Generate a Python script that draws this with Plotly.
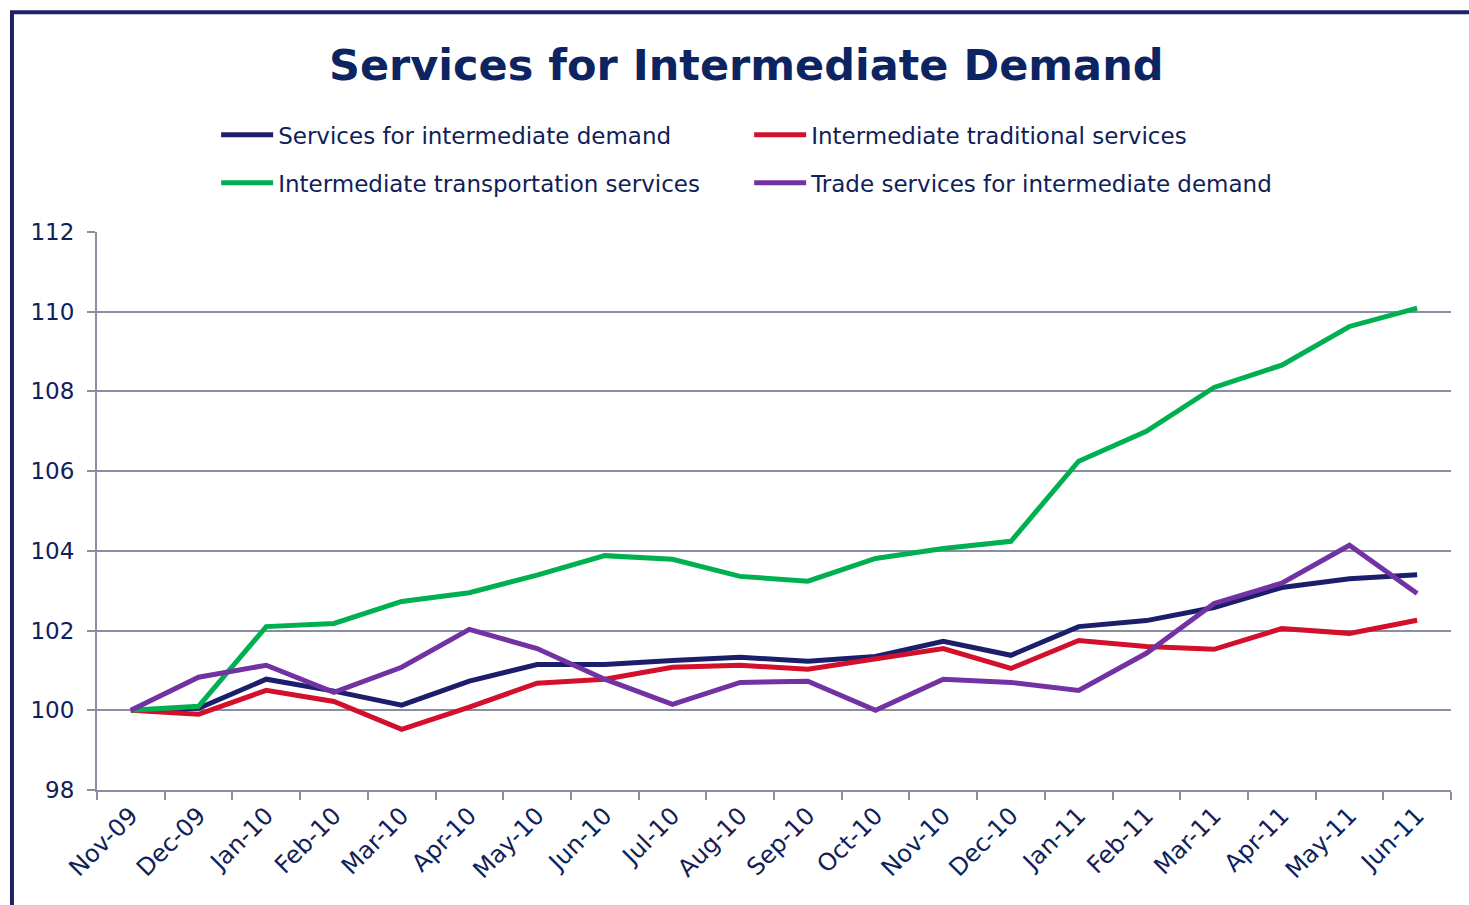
import plotly.graph_objects as go

months = ["Nov-09", "Dec-09", "Jan-10", "Feb-10", "Mar-10", "Apr-10", "May-10", "Jun-10",
          "Jul-10", "Aug-10", "Sep-10", "Oct-10", "Nov-10", "Dec-10", "Jan-11", "Feb-11",
          "Mar-11", "Apr-11", "May-11", "Jun-11"]

services_total = [100, 100.05, 100.78, 100.48, 100.13, 100.73, 101.15, 101.15, 101.25, 101.33,
                  101.23, 101.35, 101.73, 101.38, 102.1, 102.25, 102.58, 103.08, 103.3, 103.4]
traditional = [100, 99.9, 100.5, 100.22, 99.52, 100.08, 100.68, 100.78, 101.08, 101.13,
               101.03, 101.28, 101.55, 101.05, 101.75, 101.6, 101.53, 102.05, 101.93, 102.26]
transportation = [100, 100.1, 102.1, 102.18, 102.73, 102.95, 103.39, 103.88, 103.79, 103.36,
                  103.24, 103.81, 104.06, 104.24, 106.25, 107.0, 108.1, 108.66, 109.63, 110.09]
trade = [100, 100.83, 101.13, 100.45, 101.08, 102.03, 101.55, 100.78, 100.15, 100.7,
         100.73, 100.0, 100.78, 100.7, 100.5, 101.43, 102.68, 103.19, 104.14, 102.93]

navy = "#1b1f6b"
text_col = "#0f2158"
grid_col = "#8b8ea3"
font = "DejaVu Sans"

fig = go.Figure()
# two legend rows, each its own legend so the row spacing matches
series = [
    ("Services for intermediate demand", services_total, navy, "legend"),
    ("Intermediate traditional services", traditional, "#d2102b", "legend"),
    ("Intermediate transportation services", transportation, "#00b050", "legend2"),
    ("Trade services for intermediate demand", trade, "#7232a3", "legend2"),
]
for name, vals, col, leg in series:
    fig.add_trace(go.Scatter(x=months, y=vals, name=name, mode="lines", legend=leg,
                             line=dict(color=col, width=5)))

legend_style = dict(orientation="h", x=0.088, xanchor="left", yanchor="middle",
                    entrywidth=466, entrywidthmode="pixels", itemwidth=52,
                    bgcolor="rgba(0,0,0,0)",
                    font=dict(family=font, size=23, color=text_col))

fig.update_layout(
    width=1469, height=905,
    plot_bgcolor="white", paper_bgcolor="white",
    margin=dict(l=97, r=18, t=232, b=115),
    font=dict(family=font, color=text_col, size=21),
    title=dict(text="<b>Services for Intermediate Demand</b>", x=0.508, xanchor="center",
               y=0.928, yanchor="middle", font=dict(family=font, size=43, color="#0c2461")),
    legend=dict(y=1.174, **legend_style),
    legend2=dict(y=1.088, **legend_style),
    showlegend=True,
)
fig.update_xaxes(type="category", tickangle=-45, tickson="boundaries", ticks="outside",
                 ticklen=8, tickcolor=grid_col, tickwidth=2, showline=True, linecolor=grid_col,
                 linewidth=2, showgrid=False, tickfont=dict(size=24, color=text_col),
                 range=[-0.5, 19.5])
fig.update_yaxes(range=[98, 112], dtick=2, ticks="outside", ticklen=8, tickcolor=grid_col,
                 tickwidth=2, showline=True, linecolor=grid_col, linewidth=2,
                 gridcolor=grid_col, gridwidth=2, zeroline=False,
                 tickfont=dict(size=23, color=text_col), ticklabelstandoff=8)

# outer frame of the chart box
fig.add_shape(type="rect", xref="paper", yref="paper", x0=-0.0628, x1=1.2, y0=-0.4, y1=1.394,
              line=dict(color="#1f2266", width=4), layer="below")

fig.write_html("out.html", config={"displayModeBar": False},
               post_script="document.body.style.margin='0';")
